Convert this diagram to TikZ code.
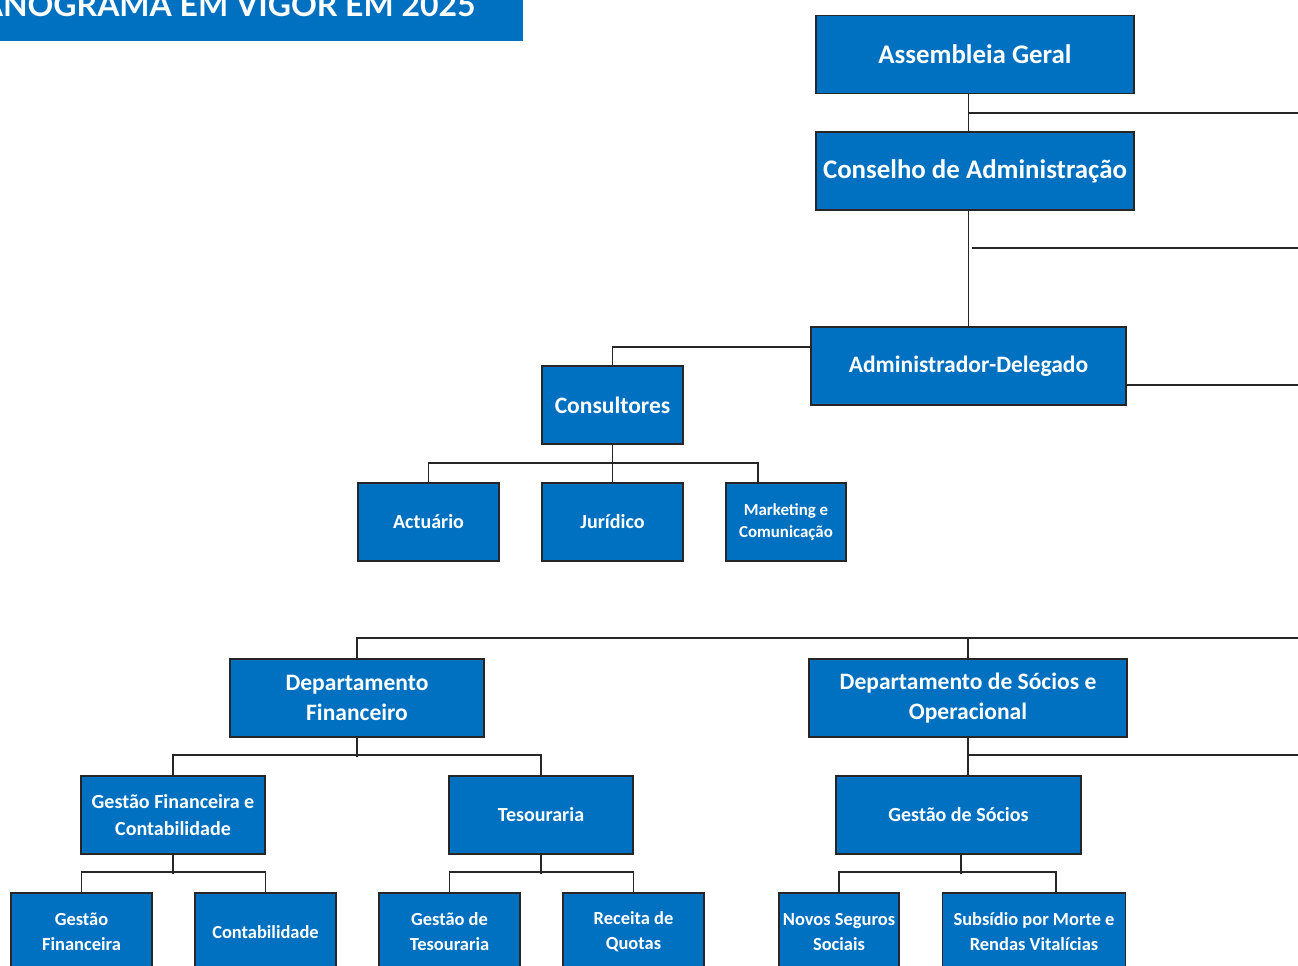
\documentclass[tikz,border=0pt]{standalone}
\usepackage{fontspec}
\setmainfont{Carlito}
\newfontfamily\titlefont{Lato}
\definecolor{orgblue}{HTML}{0070C0}
\definecolor{orgline}{HTML}{262626}
\tikzset{
  orgbox/.style={draw=orgline, line width=1.1pt, fill=orgblue, text=white, align=center,
    inner sep=0pt, minimum height=1.56cm},
  big/.style={font=\bfseries\fontsize{15.3}{18}\selectfont},
  mid/.style={font=\bfseries\fontsize{13.4}{17}\selectfont},
  small/.style={font=\bfseries\fontsize{11.4}{15.4}\selectfont},
  low/.style={font=\bfseries\fontsize{10.5}{14.2}\selectfont},
  tiny/.style={font=\bfseries\fontsize{9.6}{12.5}\selectfont},
  orgconn/.style={draw=orgline, line width=1.1pt}
}
\begin{document}
\begin{tikzpicture}[x=0.02cm,y=-0.02cm]
  \def\xmax{1298} \def\ymax{966}
  \useasboundingbox (0,0) rectangle (\xmax,\ymax);
  \clip (0,0) rectangle (\xmax,\ymax);
  % title bar
  \fill[orgblue] (0,0) rectangle (523,41);
  \node[anchor=base east, text=white, inner sep=0pt,
    font=\titlefont\bfseries\fontsize{18.2}{20}\selectfont] (title) at (476,17) {ANOGRAMA EM VIGOR EM 2025};
  % top of the chart
  \node[orgbox, big, minimum width=6.36cm] (ag) at (975,54.5) {Assembleia Geral};
  \node[orgbox, big, minimum width=6.36cm] (ca) at (975,171) {Conselho de Administração};
  \node[orgbox, mid, minimum width=6.3cm] (ad) at (968.5,366) {Administrador-Delegado};
  \node[orgbox, mid, minimum width=2.82cm] (cons) at (612.5,405) {Consultores};
  \node[orgbox, small, minimum width=2.82cm] (act) at (428.5,522) {Actuário};
  \node[orgbox, small, minimum width=2.82cm] (jur) at (612.5,522) {Jurídico};
  \node[orgbox, tiny, minimum width=2.4cm] (mkt) at (786,522) {Marketing e\\Comunicação};
  % departments
  \node[orgbox, mid, minimum width=5.08cm] (df) at (357,698) {Departamento\\Financeiro};
  \node[orgbox, mid, minimum width=6.36cm] (dso) at (968,698) {Departamento de Sócios e\\Operacional};
  \node[orgbox, small, minimum width=3.68cm] (gfc) at (173,815) {Gestão Financeira e\\Contabilidade};
  \node[orgbox, small, minimum width=3.68cm] (tes) at (541,815) {Tesouraria};
  \node[orgbox, small, minimum width=4.9cm] (gs) at (958.5,815) {Gestão de Sócios};
  \node[orgbox, low, minimum width=2.82cm] (gfin) at (81.5,932) {Gestão\\Financeira};
  \node[orgbox, low, minimum width=2.82cm] (cont) at (265.5,932) {Contabilidade};
  \node[orgbox, low, minimum width=2.82cm] (gtes) at (449.5,932) {Gestão de\\Tesouraria};
  \node[orgbox, low, minimum width=2.82cm] (rq) at (633.5,932) {Receita de\\Quotas};
  \node[orgbox, low, minimum width=2.4cm] (nss) at (839,932) {Novos Seguros\\Sociais};
  \node[orgbox, low, minimum width=3.66cm] (smr) at (1034,932) {Subsídio por Morte e\\Rendas Vitalícias};
  % lines running off the right edge
  \coordinate (e1) at (\xmax,113);
  \coordinate (e2) at (\xmax,248);
  \coordinate (e3) at (\xmax,385);
  \coordinate (e4) at (\xmax,638);
  \coordinate (e5) at (\xmax,755);
  % connectors
  \draw[orgconn] (ag.south -| ad.north) -- (ca.north -| ad.north);
  \draw[orgconn] (e1 -| ad.north) -- (e1);
  \draw[orgconn] (ca.south -| ad.north) -- (ad.north);
  \draw[orgconn, line width=1.7pt] ([xshift=0.06cm]e2 -| ad.north) -- (e2);
  \draw[orgconn] ([yshift=0.38cm]ad.west) -| (cons.north);
  \draw[orgconn] (ad.east |- e3) -- (e3);
  \draw[orgconn] (cons.south) -- (jur.north);
  \draw[orgconn] (act.north) -- ++(0,-19) -| ([xshift=-0.56cm]mkt.north);
  \draw[orgconn] (df.north) |- (e4);
  \draw[orgconn] (dso.north) -- (dso.north |- e4);
  \draw[orgconn] (df.south) -- ++(0,19);
  \draw[orgconn] (gfc.north) -- ++(0,-20) -| (tes.north);
  \draw[orgconn] (dso.south) -- (dso.south |- gs.north);
  \draw[orgconn] (dso.south |- e5) -- (e5);
  \draw[orgconn] (gfc.south) -- ++(0,19);
  \draw[orgconn] (gfin.north) -- ++(0,-20) -| (cont.north);
  \draw[orgconn] (tes.south) -- ++(0,19);
  \draw[orgconn] (gtes.north) -- ++(0,-20) -| (rq.north);
  \draw[orgconn] ([xshift=0.05cm]gs.south) -- ++(0,19);
  \draw[orgconn] (nss.north) -- ++(0,-20) -| ([xshift=0.44cm]smr.north);
\end{tikzpicture}
\end{document}
